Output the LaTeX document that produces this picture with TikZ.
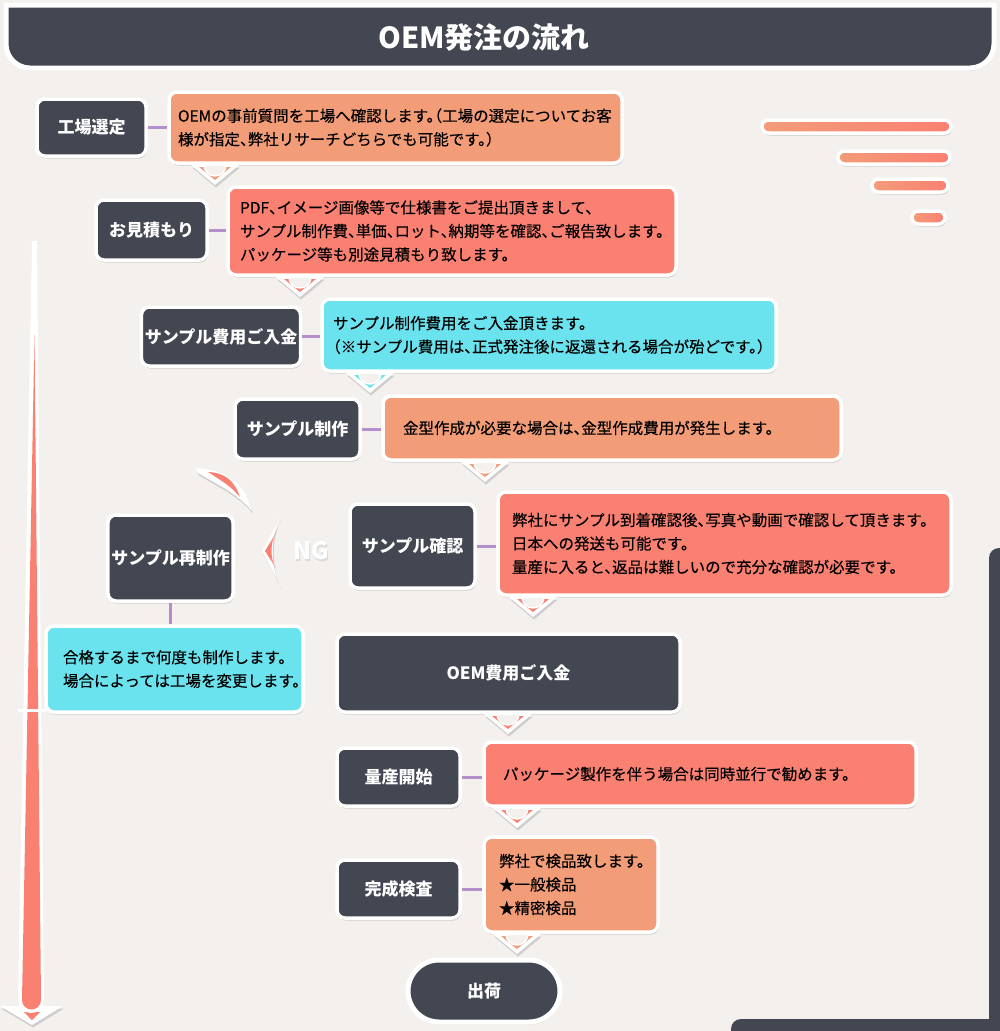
\documentclass[tikz,border=0pt]{standalone}
\usepackage{fontspec}
\newfontfamily\jpfont{Noto Sans CJK JP}
\newfontfamily\jpnote[RawFeature=+halt, FakeBold=0.3]{Noto Sans CJK JP}
\usetikzlibrary{shadows}

\definecolor{darkbg}{HTML}{434751}
\definecolor{paper}{HTML}{F3F0ED}
\definecolor{peach}{HTML}{F29C78}
\definecolor{salmon}{HTML}{FA8072}
\definecolor{aqua}{HTML}{6AE3EE}
\definecolor{linkpurple}{HTML}{B58FCB}

\tikzset{
  softshadow/.style={drop shadow={shadow xshift=1pt, shadow yshift=-2.5pt, opacity=0.3, fill=black!50}},
  stagebox/.style={fill=darkbg, draw=white, line width=3.5pt, rounded corners=8pt, text=white, font=\jpfont\bfseries\fontsize{17}{20}\selectfont, softshadow},
  notebox/.style={draw=white, line width=3.5pt, rounded corners=8pt, align=left, text=black, font=\jpnote\fontsize{15.5}{23.5}\selectfont, softshadow},
  link/.style={draw=linkpurple, line width=3pt},
  bar/.style={draw=white, line width=3.5pt, left color=peach, right color=salmon, softshadow},
  pics/downmark/.style={code={
      \fill[white, softshadow] (-24,0) -- (24,0) -- (0,20) -- cycle;
      \fill[#1] (-16,2) -- (16,2) -- (0,15) -- cycle;
      \filldraw[fill=paper, draw=white, line width=1.5pt] (-11,0) arc[start angle=180, end angle=0, radius=11] -- cycle;
  }},
}

\begin{document}
\begin{tikzpicture}[x=1pt, y=-1pt]
    \useasboundingbox (0,0) rectangle (1000,1031);
    \fill[paper] (0,0) rectangle (1000,1031);

    % Title bar
    \path[fill=darkbg, draw=white, line width=5pt, softshadow] (6,5) -- (994,5) {[rounded corners=24pt] -- (994,68) -- (6,68)} -- cycle;
    \node[text=white, font=\jpfont\bfseries\fontsize{29}{32}\selectfont] (title) at (484,38) {OEM発注の流れ};

    % Bars top right
    \draw[bar, rounded corners=6.5pt] (762,120) rectangle (951,133);
    \draw[bar, rounded corners=6.5pt] (838,151) rectangle (950,164);
    \draw[bar, rounded corners=6.5pt] (872,179) rectangle (948,192);
    \draw[bar, rounded corners=6.5pt] (912,211) rectangle (945,224);

    % Timeline arrow
    \fill[white, softshadow] (0,1006) -- (63,1006) -- (32,1025) -- cycle;
    \fill[salmon] (24,1012) -- (40,1012) -- (32,1020) -- cycle;
    \fill[white] (32,241) -- (37,241) -- (44,1000) arc[start angle=0, end angle=180, radius=13] -- cycle;
    \fill[salmon] (34.5,335) -- (41,1000) arc[start angle=0, end angle=180, radius=9.5] -- cycle;
    \draw[white, line width=3pt] (18,710) -- (46,710);

    % Bottom right frame
    \fill[darkbg, rounded corners=10pt] (989,548) rectangle (1020,1045);
    \fill[darkbg, rounded corners=10pt] (731,1019) rectangle (1020,1045);

    % Stages
    \node[stagebox, minimum width=109pt, minimum height=57pt] (n1) at (91.5,127.5) {工場選定};
    \node[stagebox, minimum width=111pt, minimum height=60pt] (n2) at (151.5,230) {お見積もり};
    \node[stagebox, minimum width=154pt, minimum height=59pt] (n3) at (221,336.5) {サンプル費用ご入金};
    \node[stagebox, minimum width=125pt, minimum height=60pt] (n4) at (297.5,429) {サンプル制作};
    \node[stagebox, minimum width=125pt, minimum height=84pt] (n5) at (412.5,546) {サンプル確認};
    \node[stagebox, minimum width=125pt, minimum height=86pt] (redo) at (170.5,558) {サンプル再制作};
    \node[stagebox, minimum width=343pt, minimum height=78pt] (n6) at (508.5,673) {OEM費用ご入金};
    \node[stagebox, minimum width=123pt, minimum height=58pt] (n7) at (398.5,777) {量産開始};
    \node[stagebox, minimum width=123pt, minimum height=58pt] (n8) at (398.5,889) {完成検査};
    \node[stagebox, line width=5pt, rounded corners=31pt, minimum width=152pt, minimum height=62pt] (ship) at (484,991) {出荷};

    % Notes
    \node[notebox, fill=peach, minimum width=453pt, minimum height=71pt, text width=435pt] (d1) at (395.5,127.5)
      {OEMの事前質問を工場へ確認します。（工場の選定についてお客\\様が指定、弊社リサーチどちらでも可能です。）};
    \node[notebox, fill=salmon, minimum width=448pt, minimum height=88pt, text width=424pt] (d2) at (452,231)
      {PDF、イメージ画像等で仕様書をご提出頂きまして、\\サンプル制作費、単価、ロット、納期等を確認、ご報告致します。\\パッケージ等も別途見積もり致します。};
    \node[notebox, fill=aqua, minimum width=454pt, minimum height=72pt, text width=432pt] (d3) at (549,335)
      {サンプル制作費用をご入金頂きます。\\（※サンプル費用は、正式発注後に返還される場合が殆どです。）};
    \node[notebox, fill=peach, minimum width=458pt, minimum height=64pt, text width=418pt] (d4) at (612,428)
      {金型作成が必要な場合は、金型作成費用が発生します。};
    \node[notebox, fill=salmon, minimum width=453pt, minimum height=103pt, text width=425pt] (d5) at (724.5,543.5)
      {弊社にサンプル到着確認後、写真や動画で確認して頂きます。\\日本への発送も可能です。\\量産に入ると、返品は難しいので充分な確認が必要です。};
    \node[notebox, fill=aqua, minimum width=257pt, minimum height=86pt, text width=223pt] (d6) at (174.5,669)
      {合格するまで何度も制作します。\\場合によっては工場を変更します。};
    \node[notebox, fill=salmon, minimum width=432pt, minimum height=64pt, text width=394pt] (d7) at (700,774)
      {パッケージ製作を伴う場合は同時並行で勧めます。};
    \node[notebox, fill=peach, minimum width=174pt, minimum height=95pt, text width=144pt] (d8) at (571,884.5)
      {弊社で検品致します。\\★一般検品\\★精密検品};

    % Links
    \draw[link] (n1.east) -- (n1.east -| d1.west);
    \draw[link] (n2.east) -- (n2.east -| d2.west);
    \draw[link] (n3.east) -- (n3.east -| d3.west);
    \draw[link] (n4.east) -- (n4.east -| d4.west);
    \draw[link] (n5.east) -- (n5.east -| d5.west);
    \draw[link] (redo.south) -- (redo.south |- d6.north);
    \draw[link] (n7.east) -- (n7.east -| d7.west);
    \draw[link] (n8.east) -- (n8.east -| d8.west);

    % Down marks
    \pic at (215,165) {downmark=peach};
    \pic at (300,277) {downmark=salmon};
    \pic at (370,373) {downmark=aqua};
    \pic at (485,462) {downmark=peach};
    \pic at (533,597) {downmark=salmon};
    \pic at (508,714) {downmark=salmon};
    \pic at (517,808) {downmark=salmon};
    \pic at (517,934) {downmark=peach};

    % NG mark
    \fill[white, softshadow] (196,468) .. controls (225,470) and (243,480) .. (252,511) .. controls (236,493) and (222,487) .. (198,473) -- cycle;
    \fill[salmon] (208,472) .. controls (225,473) and (234,480) .. (240,497) .. controls (232,487) and (222,481) .. cycle;
    \fill[white, softshadow] (281,517) -- (262,551) -- (281,587) .. controls (270,570) and (270,532) .. cycle;
    \fill[salmon] (276,533) -- (265,551) -- (276,568) .. controls (270,560) and (270,542) .. cycle;
    \node[text=black!15, font=\jpfont\bfseries\fontsize{24}{24}\selectfont] (ngshade) at (312,553) {NG};
    \node[text=white, font=\jpfont\bfseries\fontsize{24}{24}\selectfont] (ng) at (311,551) {NG};
\end{tikzpicture}
\end{document}
